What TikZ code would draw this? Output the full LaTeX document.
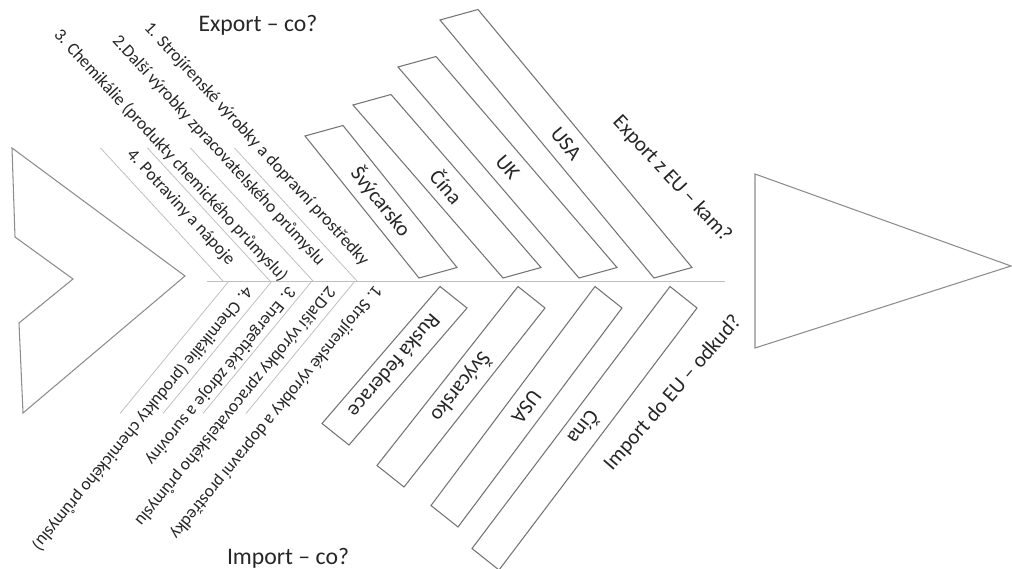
\documentclass[tikz,border=0pt]{standalone}
\usepackage{fontspec}
\setmainfont{Carlito}
\usetikzlibrary{calc}

\tikzset{
  vetev/.style={draw=black!25, line width=0.45pt},
  ram/.style={draw=black!55, line width=0.6pt},
  obrys/.style={draw=black!45, line width=0.6pt},
  popis/.style={font=\fontsize{10}{12}\selectfont, text=black!85, inner sep=2pt},
  zeme/.style={font=\fontsize{12}{14}\selectfont, text=black!85, inner sep=0pt},
  nadpis/.style={font=\fontsize{13.5}{16}\selectfont, text=black!85}
}

\begin{document}
\begin{tikzpicture}
  \useasboundingbox (0,-5.76) rectangle (20.24,5.62);

  % Hlava a ocas
  \draw[obrys] (15.1,2.14) -- (15.1,-1.34) -- (20.22,0.3) -- cycle;
  \draw[obrys] (0.24,2.66) -- (3.7,0.1) -- (0.46,-2.64) -- (0.38,-0.84)
    -- (1.46,0.04) -- (0.3,0.88) -- cycle;

  % Pater
  \coordinate (zac) at (4.14,0);
  \coordinate (kon) at (14.5,0);
  \draw[vetev] (zac) -- (kon);

  % Export - co?
  \foreach \x/\i/\dx/\dy/\txt in {7.14/1/-2/4/{1. Strojírenské výrobky a dopravní prostředky},
      6.26/2/-2/4/{2.Další výrobky zpracovatelského průmyslu},
      5.4/3/7/0/{3. Chemikálie (produkty chemického průmyslu)},
      4.46/4/-2/4/{4. Potraviny a nápoje}} {
    \coordinate (ea\i) at (\x,0);
    \coordinate (eb\i) at ({\x-2.45},2.66);
    \draw[vetev] (ea\i) -- (eb\i);
    \node[popis, rotate=-47.4, anchor=south east, xshift=\dx pt, yshift=\dy pt] (ec\i) at (ea\i) {\txt};
  }

  % Import - co?
  \foreach \x/\i/\dx/\dy/\txt in {7.1/1/-8/6/{1. Strojírenské výrobky a dopravní prostředky},
      6.24/2/-6/5/{2.Další výrobky zpracovatelského průmyslu},
      5.44/3/-6/5/{3. Energetické zdroje a suroviny},
      4.58/4/-6/5/{4. Chemikálie (produkty chemického průmyslu)}} {
    \coordinate (ia\i) at (\x,0);
    \coordinate (ib\i) at ({\x-2.18},-2.65);
    \draw[vetev] (ia\i) -- (ib\i);
    \node[popis, rotate=230.6, anchor=south west, xshift=\dx pt, yshift=\dy pt] (ic\i) at (ia\i) {\txt};
  }

  % Export z EU - kam?
  \foreach \bx/\lx/\ly/\i/\zem in {8.38/-2.28/2.84/1/Švýcarsko,
      10.06/-3.0/3.46/2/Čína, 11.58/-3.62/4.22/3/UK, 13.08/-4.28/5.16/4/USA} {
    \draw[ram] (\bx,0.06) -- ++(0.76,0.21) -- ++(\lx,\ly) -- ++(-0.76,-0.21) -- cycle;
    \node[zeme, rotate={atan2(-\ly,-\lx)}] (ez\i)
      at ({\bx+0.38+0.5*\lx},{0.165+0.5*\ly}) {\zem};
  }

  % Import do EU - odkud?
  \foreach \tx/\lx/\ly/\i/\zem in {8.8/-2.36/-2.74/1/Ruská federace,
      10.36/-2.82/-3.58/2/Švýcarsko, 11.9/-3.28/-4.38/3/USA, 13.4/-3.96/-5.24/4/Čína} {
    \draw[ram] (\tx,-0.11) -- ++(0.54,-0.43) -- ++(\lx,\ly) -- ++(-0.54,0.43) -- cycle;
    \node[zeme, rotate={atan2(\ly,\lx)}] (iz\i)
      at ({\tx+0.27+0.5*\lx},{-0.325+0.5*\ly}) {\zem};
  }

  % Nadpisy
  \node[nadpis] (exco) at (5.16,5.12) {Export – co?};
  \node[nadpis] (imco) at (5.76,-5.54) {Import – co?};
  \node[zeme, rotate=-47] (exkam) at (13.44,2.04) {Export z EU – kam?};
  \node[zeme, rotate=49] (imkud) at (13.46,-2.24) {Import do EU – odkud?};
\end{tikzpicture}
\end{document}
